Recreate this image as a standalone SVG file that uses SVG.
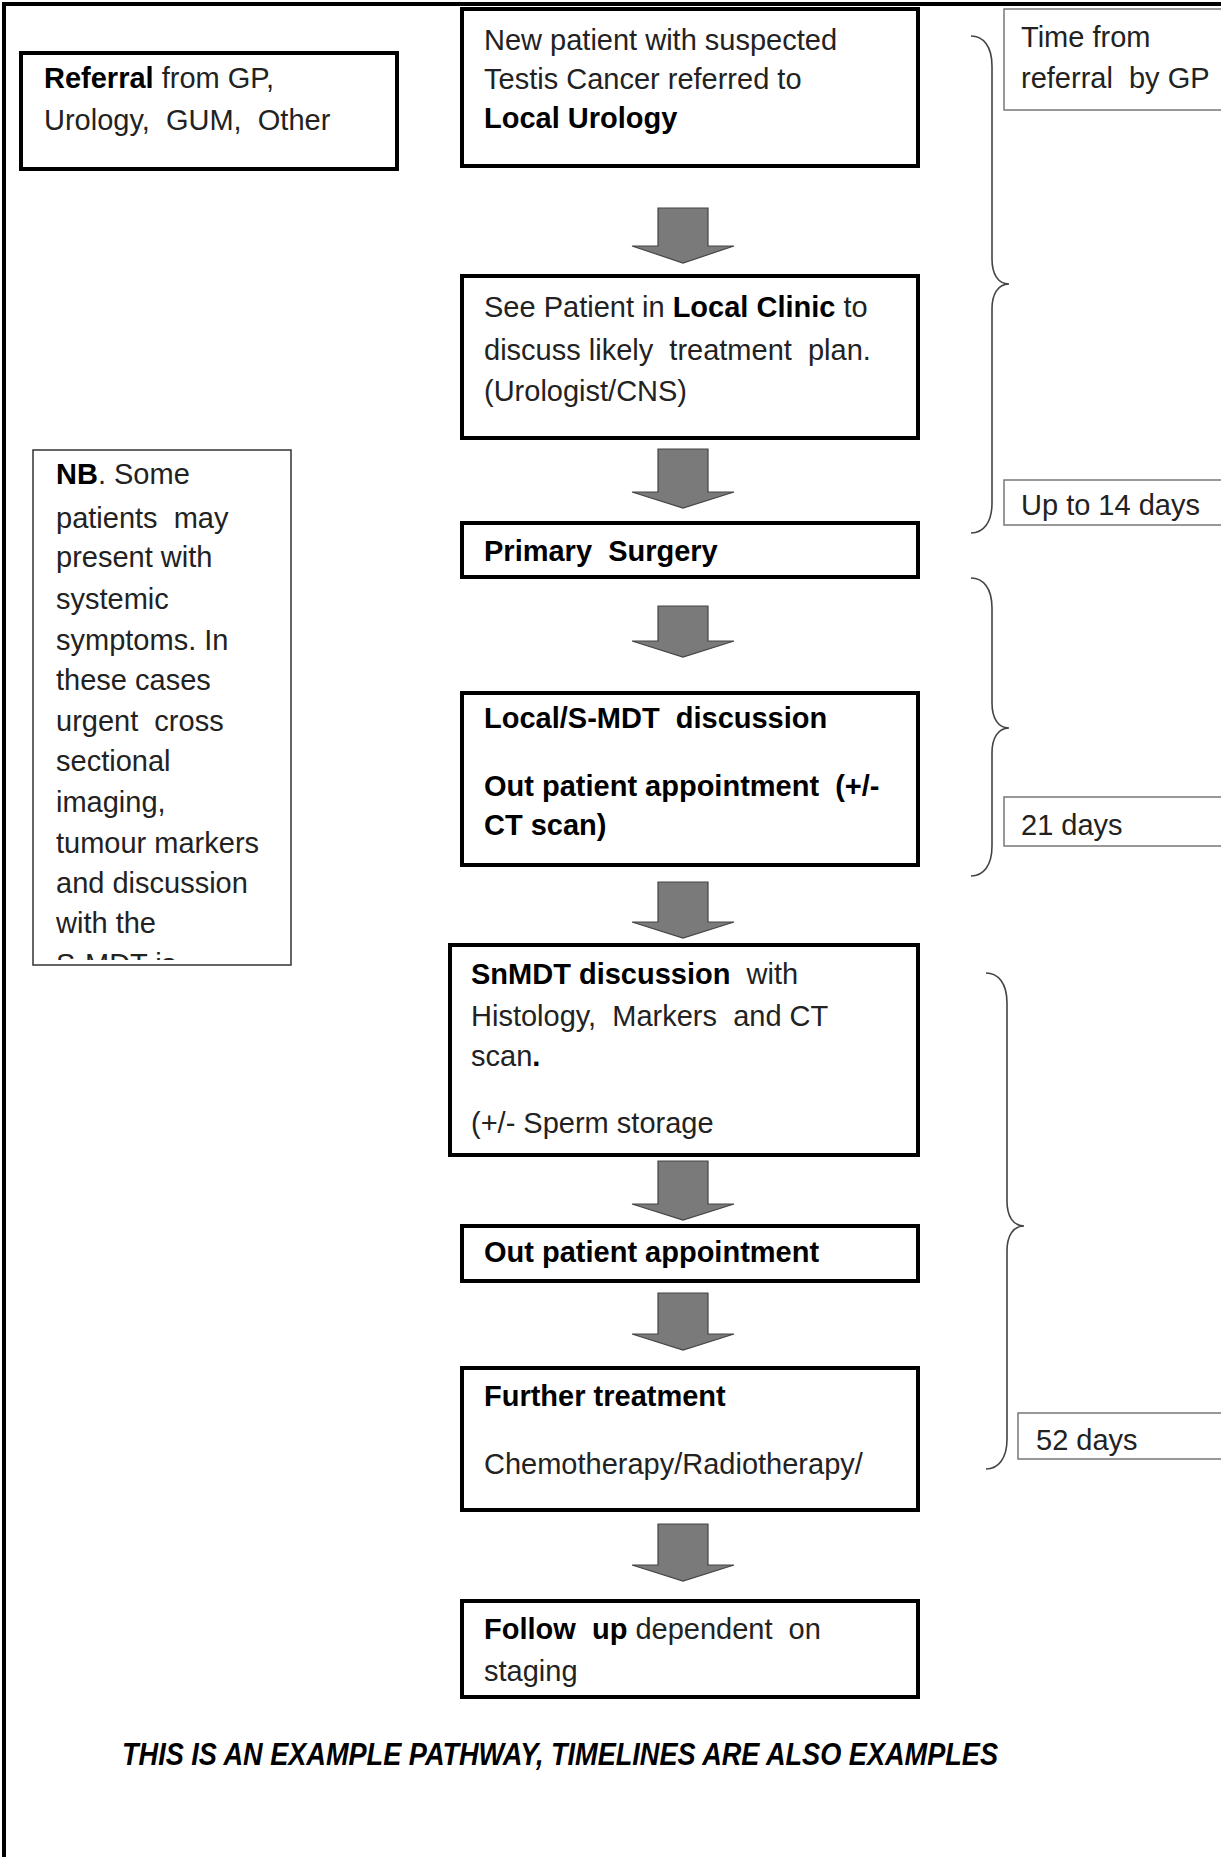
<svg xmlns="http://www.w3.org/2000/svg" width="1221" height="1857" viewBox="0 0 1221 1857">
<style>
.box{fill:#fff;stroke:#000;stroke-width:4}
.thin{fill:#fff;stroke:#777;stroke-width:1.5}
.nb{fill:#fff;stroke:#333;stroke-width:1.5}
.t{font-family:"Liberation Sans",Arial,sans-serif;font-size:29px;fill:#222;white-space:pre}
.b{font-weight:bold;fill:#000}
.arr{fill:#7a7a7a;stroke:#444;stroke-width:1.2}
.brace{fill:none;stroke:#444;stroke-width:1.6}
.foot{font-family:"Liberation Sans",Arial,sans-serif;font-size:32px;font-weight:bold;font-style:italic;fill:#000}
</style>
<defs>
<clipPath id="nbclip"><rect x="33" y="450" width="258" height="510"/></clipPath>
</defs>
<rect width="1221" height="1857" fill="#fff"/>
<rect x="4" y="4" width="1260" height="1900" fill="none" stroke="#000" stroke-width="4"/>

<g id="connectors">
<polygon class="arr" points="658,208 708,208 708,246 734,246 683,263 632,246 658,246"/>
<polygon class="arr" points="658,449 708,449 708,492 734,492 683,508 632,492 658,492"/>
<polygon class="arr" points="658,606 708,606 708,641 734,641 683,657 632,641 658,641"/>
<polygon class="arr" points="658,882 708,882 708,922 734,922 683,938 632,922 658,922"/>
<polygon class="arr" points="658,1161 708,1161 708,1204 734,1204 683,1220 632,1204 658,1204"/>
<polygon class="arr" points="658,1293 708,1293 708,1334 734,1334 683,1350 632,1334 658,1334"/>
<polygon class="arr" points="658,1524 708,1524 708,1565 734,1565 683,1581 632,1565 658,1565"/>
</g>

<g id="braces">
<path class="brace" d="M971,36 C983,36 992,46 992,66 L992,259 C992,274 998,284 1009,284 C998,284 992,294 992,309 L992,503 C992,523 983,533 971,533"/>
<path class="brace" d="M971,578 C983,578 992,588 992,608 L992,703 C992,718 998,728 1009,728 C998,728 992,738 992,753 L992,846 C992,866 983,876 971,876"/>
<path class="brace" d="M986,973 C998,973 1007,983 1007,1003 L1007,1201 C1007,1216 1013,1226 1024,1226 C1013,1226 1007,1236 1007,1251 L1007,1439 C1007,1459 998,1469 986,1469"/>
</g>

<g id="referral">
<rect class="box" x="21" y="53" width="376" height="116"/>
<text class="t" x="44" y="88"><tspan class="b">Referral</tspan> from GP,</text>
<text class="t" x="44" y="130">Urology,  GUM,  Other</text>
</g>

<g id="n1">
<rect class="box" x="462" y="9" width="456" height="157"/>
<text class="t" x="484" y="50">New patient with suspected</text>
<text class="t" x="484" y="89">Testis Cancer referred to</text>
<text class="t b" x="484" y="128">Local Urology</text>
</g>

<g id="time1">
<rect class="thin" x="1004" y="9" width="240" height="101"/>
<text class="t" x="1021" y="47">Time from</text>
<text class="t" x="1021" y="88">referral  by GP</text>
</g>

<g id="n2">
<rect class="box" x="462" y="276" width="456" height="162"/>
<text class="t" x="484" y="317">See Patient in <tspan class="b">Local Clinic</tspan> to</text>
<text class="t" x="484" y="360">discuss likely  treatment  plan.</text>
<text class="t" x="484" y="401">(Urologist/CNS)</text>
</g>

<g id="n3">
<rect class="box" x="462" y="523" width="456" height="54"/>
<text class="t b" x="484" y="561">Primary  Surgery</text>
</g>

<g id="time2">
<rect class="thin" x="1004" y="480" width="240" height="45"/>
<text class="t" x="1021" y="515">Up to 14 days</text>
</g>

<g id="n4">
<rect class="box" x="462" y="693" width="456" height="172"/>
<text class="t b" x="484" y="728">Local/S-MDT  discussion</text>
<text class="t b" x="484" y="796">Out patient appointment  (+/-</text>
<text class="t b" x="484" y="835">CT scan)</text>
</g>

<g id="time3">
<rect class="thin" x="1004" y="797" width="240" height="49"/>
<text class="t" x="1021" y="835">21 days</text>
</g>

<g id="nb">
<rect class="nb" x="33" y="450" width="258" height="515"/>
<g clip-path="url(#nbclip)">
<text class="t" x="56" y="484"><tspan class="b">NB</tspan>. Some</text>
<text class="t" x="56" y="528">patients  may</text>
<text class="t" x="56" y="567">present with</text>
<text class="t" x="56" y="609">systemic</text>
<text class="t" x="56" y="650">symptoms. In</text>
<text class="t" x="56" y="690">these cases</text>
<text class="t" x="56" y="731">urgent  cross</text>
<text class="t" x="56" y="771">sectional</text>
<text class="t" x="56" y="812">imaging,</text>
<text class="t" x="56" y="853">tumour markers</text>
<text class="t" x="56" y="893">and discussion</text>
<text class="t" x="56" y="933">with the</text>
<text class="t" x="56" y="974">S-MDT is</text>
</g>
</g>

<g id="n5">
<rect class="box" x="450" y="945" width="468" height="210"/>
<text class="t" x="471" y="984"><tspan class="b">SnMDT discussion</tspan>  with</text>
<text class="t" x="471" y="1026">Histology,  Markers  and CT</text>
<text class="t" x="471" y="1066">scan<tspan class="b">.</tspan></text>
<text class="t" x="471" y="1133">(+/- Sperm storage</text>
</g>

<g id="n6">
<rect class="box" x="462" y="1226" width="456" height="55"/>
<text class="t b" x="484" y="1262">Out patient appointment</text>
</g>

<g id="n7">
<rect class="box" x="462" y="1368" width="456" height="142"/>
<text class="t b" x="484" y="1406">Further treatment</text>
<text class="t" x="484" y="1474">Chemotherapy/Radiotherapy/</text>
</g>

<g id="time4">
<rect class="thin" x="1018" y="1413" width="240" height="46"/>
<text class="t" x="1036" y="1450">52 days</text>
</g>

<g id="n8">
<rect class="box" x="462" y="1601" width="456" height="96"/>
<text class="t" x="484" y="1639"><tspan class="b">Follow  up</tspan> dependent  on</text>
<text class="t" x="484" y="1681">staging</text>
</g>

<text class="foot" x="122" y="1765" textLength="876" lengthAdjust="spacingAndGlyphs">THIS IS AN EXAMPLE PATHWAY, TIMELINES ARE ALSO EXAMPLES</text>
</svg>
